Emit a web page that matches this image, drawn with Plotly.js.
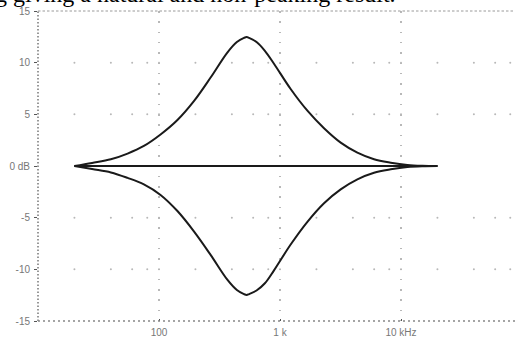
<!DOCTYPE html>
<html>
<head>
<meta charset="utf-8">
<script src="https://cdn.plot.ly/plotly-3.0.1.min.js"></script>
<style>
  body { margin: 0; overflow: hidden; background: #fff; }
  #eq { width: 540px; height: 340px; }
</style>
</head>
<body>
<div id="eq"></div>
<script>
// frequencies in Hz, gains in dB
var freqHz = [20, 28, 40, 55, 75, 103, 142, 195, 267, 367, 440, 504, 530, 555, 640, 750, 892, 1225, 1684, 2311, 3174, 4361, 5984, 8222, 11290, 15000, 20000];
var boostDb = [0, 0.3, 0.65, 1.2, 1.94, 3.05, 4.45, 6.3, 8.56, 10.98, 12.0, 12.4, 12.48, 12.4, 12.0, 11.15, 9.9, 7.45, 5.35, 3.65, 2.26, 1.29, 0.65, 0.32, 0.1, 0.02, 0];
var cutDb = [0, -0.3, -0.62, -1.15, -1.78, -2.8, -4.36, -6.35, -8.6, -11.0, -12.0, -12.4, -12.48, -12.4, -12.05, -11.35, -10.1, -7.6, -5.4, -3.6, -2.26, -1.29, -0.65, -0.32, -0.1, -0.02, 0];
var flatHz = [20, 20000];
var flatDb = [0, 0];

var xTicks = [100, 1000, 10000];
var xLabels = ["100", "1 k", "10 kHz"];
var yTicks = [15, 10, 5, 0, -5, -10, -15];
var yLabels = ["15", "10", "5", "0 dB", "-5", "-10", "-15"];

// dotted horizontal grid: dots at 2,4,6,8,10 of each decade
var gridDb = [-10, -5, 5, 10];
var gridMult = [2, 4, 6, 8, 10];
var decades = [10, 100, 1000, 10000];

var gx = [], gy = [];
gridDb.forEach(function (d) {
  decades.forEach(function (dec) {
    gridMult.forEach(function (m) { gx.push(dec * m); gy.push(d); });
  });
});

var curveLine = { color: '#1a1a1a', width: 2, shape: 'spline', smoothing: 1 };

var data = [
  { x: gx, y: gy, mode: 'markers', marker: { size: 2, color: '#b8b8b8' }, hoverinfo: 'skip' },
  { x: flatHz, y: flatDb, mode: 'lines', line: { color: '#1a1a1a', width: 2 } },
  { x: freqHz, y: boostDb, mode: 'lines', line: curveLine },
  { x: freqHz, y: cutDb, mode: 'lines', line: curveLine }
];

var tickFont = { family: 'Liberation Sans, Arial, sans-serif', size: 10, color: '#777' };

var layout = {
  width: 540,
  height: 340,
  margin: { l: 38, r: 18, t: 11, b: 19 },
  showlegend: false,
  paper_bgcolor: '#fff',
  plot_bgcolor: '#fff',
  xaxis: {
    type: 'log',
    range: [1, 5],
    tickvals: xTicks,
    ticktext: xLabels,
    tickfont: tickFont,
    ticks: 'inside',
    ticklen: 2,
    tickcolor: '#555',
    showgrid: true,
    gridcolor: '#b8b8b8',
    gridwidth: 1.5,
    griddash: '1.5px,8.8px',
    zeroline: false,
    showline: false,
    ticklabelstandoff: 4
  },
  yaxis: {
    range: [-15, 15],
    tickvals: yTicks,
    ticktext: yLabels,
    tickfont: tickFont,
    ticks: 'outside',
    ticklen: 3,
    tickcolor: '#555',
    showgrid: false,
    zeroline: false,
    showline: false,
    ticklabelstandoff: 2
  },
  shapes: [
    { type: 'line', xref: 'paper', yref: 'paper', x0: 0, x1: 1, y0: 1, y1: 1,
      line: { color: '#9a9a9a', width: 1, dash: '2.5px,2px' } },
    { type: 'line', xref: 'paper', yref: 'paper', x0: 0, x1: 0, y0: 0, y1: 1,
      line: { color: '#777', width: 1.5, dash: '1.5px,2px' } },
    { type: 'line', xref: 'paper', yref: 'paper', x0: 0, x1: 1, y0: 0, y1: 0,
      line: { color: '#888', width: 1.5, dash: '2px,3px' } }
  ],
  annotations: [
    { text: 'g giving a natural and non-peaking result.', xref: 'paper', yref: 'paper',
      x: 0, y: 1, xanchor: 'left', yanchor: 'bottom', xshift: -45, yshift: 2, showarrow: false,
      font: { family: 'Liberation Serif, Times New Roman, serif', size: 24, color: '#000' } }
  ]
};

Plotly.newPlot('eq', data, layout, { staticPlot: true });
</script>
</body>
</html>
